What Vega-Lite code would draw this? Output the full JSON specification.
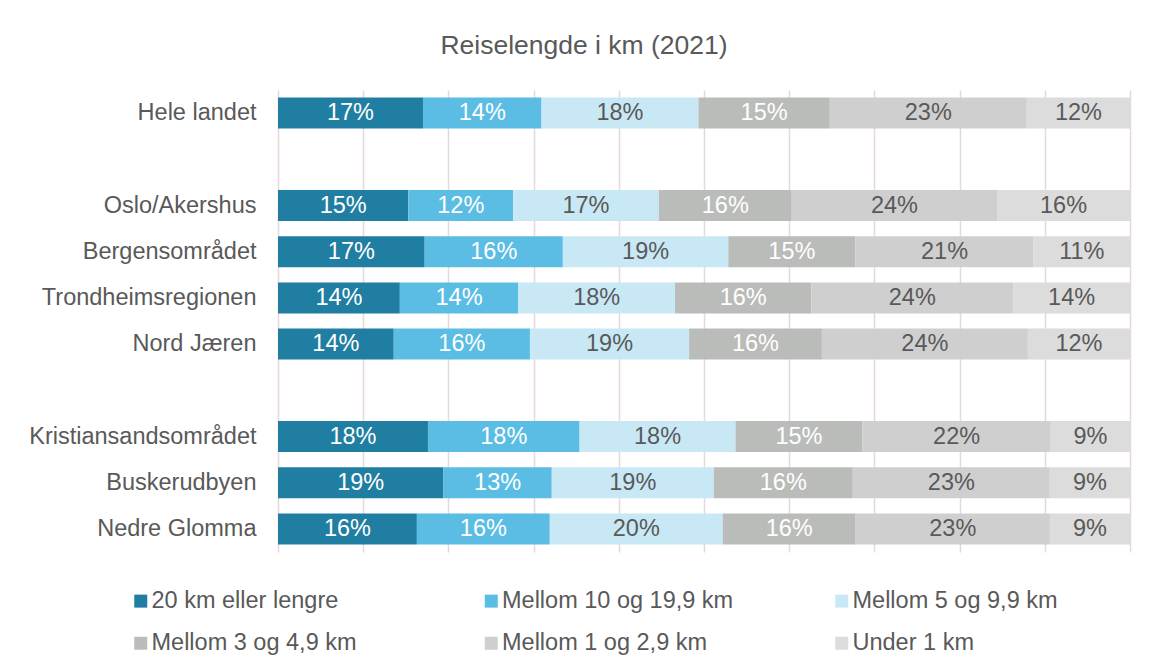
{
  "$schema": "https://vega.github.io/schema/vega-lite/v6.json",
  "width": 852,
  "height": 462,
  "autosize": {"type": "none"},
  "padding": {"left": 278, "top": 90, "right": 21, "bottom": 119},
  "background": "white",
  "title": {
    "text": "Reiselengde i km (2021)",
    "fontSize": 26.5,
    "font": "Liberation Sans",
    "fontWeight": "normal",
    "color": "#595959",
    "anchor": "middle",
    "dx": -120,
    "baseline": "alphabetic",
    "offset": 10
  },
  "config": {
    "view": {"stroke": null},
    "font": "Liberation Sans"
  },
  "data": {
    "values": [
      {"region": "Hele landet", "cat": "20 km eller lengre", "rank": 1, "value": 0.170},
      {"region": "Hele landet", "cat": "Mellom 10 og 19,9 km", "rank": 2, "value": 0.139},
      {"region": "Hele landet", "cat": "Mellom 5 og 9,9 km", "rank": 3, "value": 0.184},
      {"region": "Hele landet", "cat": "Mellom 3 og 4,9 km", "rank": 4, "value": 0.154},
      {"region": "Hele landet", "cat": "Mellom 1 og 2,9 km", "rank": 5, "value": 0.231},
      {"region": "Hele landet", "cat": "Under 1 km", "rank": 6, "value": 0.121},
      {"region": "Oslo/Akershus", "cat": "20 km eller lengre", "rank": 1, "value": 0.153},
      {"region": "Oslo/Akershus", "cat": "Mellom 10 og 19,9 km", "rank": 2, "value": 0.123},
      {"region": "Oslo/Akershus", "cat": "Mellom 5 og 9,9 km", "rank": 3, "value": 0.171},
      {"region": "Oslo/Akershus", "cat": "Mellom 3 og 4,9 km", "rank": 4, "value": 0.156},
      {"region": "Oslo/Akershus", "cat": "Mellom 1 og 2,9 km", "rank": 5, "value": 0.241},
      {"region": "Oslo/Akershus", "cat": "Under 1 km", "rank": 6, "value": 0.156},
      {"region": "Bergensområdet", "cat": "20 km eller lengre", "rank": 1, "value": 0.172},
      {"region": "Bergensområdet", "cat": "Mellom 10 og 19,9 km", "rank": 2, "value": 0.162},
      {"region": "Bergensområdet", "cat": "Mellom 5 og 9,9 km", "rank": 3, "value": 0.194},
      {"region": "Bergensområdet", "cat": "Mellom 3 og 4,9 km", "rank": 4, "value": 0.149},
      {"region": "Bergensområdet", "cat": "Mellom 1 og 2,9 km", "rank": 5, "value": 0.209},
      {"region": "Bergensområdet", "cat": "Under 1 km", "rank": 6, "value": 0.113},
      {"region": "Trondheimsregionen", "cat": "20 km eller lengre", "rank": 1, "value": 0.143},
      {"region": "Trondheimsregionen", "cat": "Mellom 10 og 19,9 km", "rank": 2, "value": 0.139},
      {"region": "Trondheimsregionen", "cat": "Mellom 5 og 9,9 km", "rank": 3, "value": 0.184},
      {"region": "Trondheimsregionen", "cat": "Mellom 3 og 4,9 km", "rank": 4, "value": 0.160},
      {"region": "Trondheimsregionen", "cat": "Mellom 1 og 2,9 km", "rank": 5, "value": 0.237},
      {"region": "Trondheimsregionen", "cat": "Under 1 km", "rank": 6, "value": 0.137},
      {"region": "Nord Jæren", "cat": "20 km eller lengre", "rank": 1, "value": 0.136},
      {"region": "Nord Jæren", "cat": "Mellom 10 og 19,9 km", "rank": 2, "value": 0.160},
      {"region": "Nord Jæren", "cat": "Mellom 5 og 9,9 km", "rank": 3, "value": 0.187},
      {"region": "Nord Jæren", "cat": "Mellom 3 og 4,9 km", "rank": 4, "value": 0.156},
      {"region": "Nord Jæren", "cat": "Mellom 1 og 2,9 km", "rank": 5, "value": 0.242},
      {"region": "Nord Jæren", "cat": "Under 1 km", "rank": 6, "value": 0.120},
      {"region": "Kristiansandsområdet", "cat": "20 km eller lengre", "rank": 1, "value": 0.176},
      {"region": "Kristiansandsområdet", "cat": "Mellom 10 og 19,9 km", "rank": 2, "value": 0.178},
      {"region": "Kristiansandsområdet", "cat": "Mellom 5 og 9,9 km", "rank": 3, "value": 0.183},
      {"region": "Kristiansandsområdet", "cat": "Mellom 3 og 4,9 km", "rank": 4, "value": 0.149},
      {"region": "Kristiansandsområdet", "cat": "Mellom 1 og 2,9 km", "rank": 5, "value": 0.221},
      {"region": "Kristiansandsområdet", "cat": "Under 1 km", "rank": 6, "value": 0.093},
      {"region": "Buskerudbyen", "cat": "20 km eller lengre", "rank": 1, "value": 0.194},
      {"region": "Buskerudbyen", "cat": "Mellom 10 og 19,9 km", "rank": 2, "value": 0.127},
      {"region": "Buskerudbyen", "cat": "Mellom 5 og 9,9 km", "rank": 3, "value": 0.190},
      {"region": "Buskerudbyen", "cat": "Mellom 3 og 4,9 km", "rank": 4, "value": 0.163},
      {"region": "Buskerudbyen", "cat": "Mellom 1 og 2,9 km", "rank": 5, "value": 0.231},
      {"region": "Buskerudbyen", "cat": "Under 1 km", "rank": 6, "value": 0.094},
      {"region": "Nedre Glomma", "cat": "20 km eller lengre", "rank": 1, "value": 0.163},
      {"region": "Nedre Glomma", "cat": "Mellom 10 og 19,9 km", "rank": 2, "value": 0.156},
      {"region": "Nedre Glomma", "cat": "Mellom 5 og 9,9 km", "rank": 3, "value": 0.203},
      {"region": "Nedre Glomma", "cat": "Mellom 3 og 4,9 km", "rank": 4, "value": 0.156},
      {"region": "Nedre Glomma", "cat": "Mellom 1 og 2,9 km", "rank": 5, "value": 0.228},
      {"region": "Nedre Glomma", "cat": "Under 1 km", "rank": 6, "value": 0.094}
    ]
  },
  "transform": [
    {"stack": "value", "groupby": ["region"], "sort": [{"field": "rank", "order": "ascending"}], "offset": "normalize", "as": ["v0", "v1"]}
  ],
  "encoding": {
    "y": {
      "field": "region",
      "type": "nominal",
      "sort": null,
      "scale": {
        "domain": ["Hele landet", " ", "Oslo/Akershus", "Bergensområdet", "Trondheimsregionen", "Nord Jæren", "  ", "Kristiansandsområdet", "Buskerudbyen", "Nedre Glomma"],
        "paddingInner": 0.33,
        "paddingOuter": 0.165
      },
      "axis": {
        "title": null,
        "domain": false,
        "ticks": false,
        "labelFontSize": 23.5,
        "labelColor": "#595959",
        "labelFont": "Liberation Sans",
        "labelPadding": 22,
        "labelLimit": 400
      }
    }
  },
  "layer": [
    {
      "mark": {"type": "bar"},
      "encoding": {
        "x": {
          "field": "v0",
          "type": "quantitative",
          "scale": {"domain": [0, 1], "nice": false, "zero": true},
          "axis": {
            "title": null,
            "labels": false,
            "ticks": false,
            "domain": false,
            "grid": true,
            "values": [0, 0.1, 0.2, 0.3, 0.4, 0.5, 0.6, 0.7, 0.8, 0.9, 1],
            "gridColor": "#e6d8dd",
            "gridWidth": 1.5,
            "gridOpacity": 1
          }
        },
        "x2": {"field": "v1"},
        "color": {
          "field": "cat",
          "type": "nominal",
          "scale": {
            "domain": ["20 km eller lengre", "Mellom 10 og 19,9 km", "Mellom 5 og 9,9 km", "Mellom 3 og 4,9 km", "Mellom 1 og 2,9 km", "Under 1 km"],
            "range": ["#1f7ea1", "#5bbde3", "#c8e8f5", "#babcb9", "#d0cfd0", "#dcdcdc"]
          },
          "legend": {
            "title": null,
            "orient": "none",
            "legendX": -149,
            "legendY": 499,
            "direction": "horizontal",
            "columns": 3,
            "gridAlign": "all",
            "columnPadding": 96.5,
            "rowPadding": 17.5,
            "symbolType": "square",
            "symbolSize": 169,
            "symbolStrokeWidth": 0,
            "symbolOpacity": 1,
            "labelFontSize": 23.5,
            "labelFont": "Liberation Sans",
            "labelColor": "#595959",
            "labelOffset": -1,
            "labelLimit": 400
          }
        }
      }
    },
    {
      "transform": [{"calculate": "(datum.v0 + datum.v1) / 2", "as": "vmid"}],
      "mark": {"type": "text", "fontSize": 23.5, "font": "Liberation Sans", "baseline": "middle", "align": "center"},
      "encoding": {
        "x": {"field": "vmid", "type": "quantitative"},
        "text": {"field": "value", "type": "quantitative", "format": ".0%"},
        "color": {
          "condition": {"test": "datum.rank == 1 || datum.rank == 2 || datum.rank == 4", "value": "white"},
          "value": "#595959"
        }
      }
    }
  ]
}
